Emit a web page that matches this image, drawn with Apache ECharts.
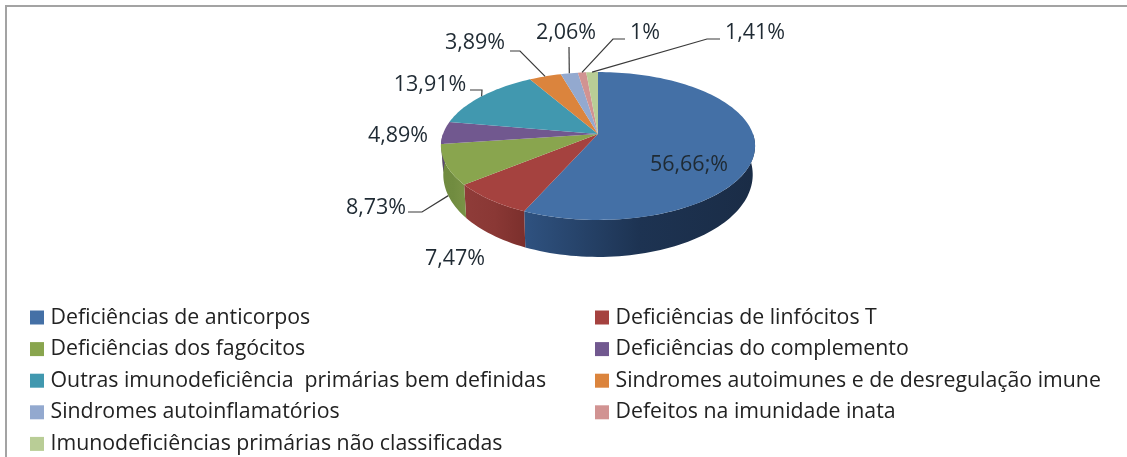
<!DOCTYPE html>
<html>
<head>
<meta charset="utf-8">
<title>Imunodeficiências primárias</title>
<style>
  html, body { margin: 0; padding: 0; background: #fff; }
  #chart { width: 1127px; height: 457px; }
</style>
<script src="https://cdn.jsdelivr.net/npm/echarts@6/dist/echarts.min.js"></script>
</head>
<body>
<div id="chart"></div>
<script>
const categories = [
  'Deficiências de anticorpos',
  'Deficiências de linfócitos T',
  'Deficiências dos fagócitos',
  'Deficiências do complemento',
  'Outras imunodeficiência  primárias bem definidas',
  'Sindromes autoimunes e de desregulação imune',
  'Sindromes autoinflamatórios',
  'Defeitos na imunidade inata',
  'Imunodeficiências primárias não classificadas'
]
const values = [56.66, 7.47, 8.73, 4.89, 13.91, 3.89, 2.06, 1, 1.41]
const valueLabels = ['56,66;%', '7,47%', '8,73%', '4,89%', '13,91%', '3,89%', '2,06%', '1%', '1,41%']
const colors = ['#4470a6', '#a5423f', '#89a54e', '#71588f', '#4198af', '#db843d', '#93a9cf', '#d19392', '#b9cd96']
const sideColors = [
  ['#2f5280', '#1d3352', '#1a2c46'],
  ['#8f3c39', '#8a3835', '#7b2f2c'],
  ['#6f8a3f', '#718c40', '#7a9346'],
  ['#5a4672', '#5a4672', '#5a4672'],
  ['#347a8c', '#347a8c', '#347a8c'],
  ['#af6a31', '#af6a31', '#af6a31'],
  ['#7587a6', '#7587a6', '#7587a6'],
  ['#a77675', '#a77675', '#a77675'],
  ['#94a478', '#94a478', '#94a478']
]
// label centre, then the elbow of the leader line (null = no leader)
const labelCentres = [[689, 165], [455, 259], [376, 208], [398, 136], [430, 85], [475, 43], [566, 33], [645, 33], [755, 33]]
const leaderElbows = [
  null, null,
  [[408, 212], [422, 212]], null,
  [[470, 90], [482, 90]],
  [[510, 51], [520, 51]],
  [[569, 47]],
  [[625, 39], [613, 39]],
  [[720, 39], [707, 39]]
]

const FONT = '"Open Sans", Lato, sans-serif'
const total = values.reduce((a, b) => a + b, 0)
const cumulative = values.map((_, i) => values.slice(0, i).reduce((a, b) => a + b, 0))

// pie plane seen in perspective, same numbers for all slices
const pie = { cx: 598, cy: 134, a: 155, b: 72, k: 0.162 }

function rimPoint(theta) {
  const x = Math.sin(theta)
  const y = Math.cos(theta)
  const w = 1 + pie.k * y
  return [pie.cx + pie.a * x / w, pie.cy - pie.b * y / w]
}

function floorPoint(theta) {
  const p = rimPoint(theta)
  return [pie.cx + (p[0] - pie.cx) * 0.985, p[1] + 27 - 10 * Math.cos(theta)]
}

function arc(from, to, fn) {
  const steps = Math.max(2, Math.ceil((to - from) / 0.03))
  const pts = []
  for (let i = 0; i <= steps; i++) {
    pts.push(fn(from + (to - from) * i / steps))
  }
  return pts
}

function renderSlice(params, api) {
  const i = params.seriesIndex
  const start = api.value(0) / total * Math.PI * 2
  const end = start + api.value(1) / total * Math.PI * 2
  const mid = (start + end) / 2
  const children = []

  // visible wall is the front half only
  const wallFrom = Math.max(start, Math.PI / 2)
  const wallTo = Math.min(end, Math.PI * 1.5)
  if (wallTo > wallFrom) {
    const top = arc(wallFrom, wallTo, rimPoint)
    const bottom = arc(wallFrom, wallTo, floorPoint).reverse()
    children.push({
      type: 'polygon',
      z2: 1,
      shape: { points: top.concat(bottom) },
      style: {
        fill: new echarts.graphic.LinearGradient(0, 0, 1, 0, [
          { offset: 0, color: sideColors[i][0] },
          { offset: 0.5, color: sideColors[i][1] },
          { offset: 1, color: sideColors[i][2] }
        ])
      }
    })
  }

  children.push({
    type: 'polygon',
    z2: 2,
    shape: { points: [[pie.cx, pie.cy]].concat(arc(start, end, rimPoint)) },
    style: { fill: colors[i] }
  })

  const elbows = leaderElbows[i]
  if (elbows) {
    const anchor = mid > Math.PI / 2 && mid < Math.PI * 1.5 ? floorPoint(mid) : rimPoint(mid)
    children.push({
      type: 'polyline',
      z2: 3,
      shape: { points: elbows.concat([anchor]) },
      style: { fill: null, stroke: '#3a3a3a', lineWidth: 1.2 }
    })
  }

  children.push({
    type: 'text',
    z2: 4,
    x: labelCentres[i][0],
    y: labelCentres[i][1],
    style: {
      text: valueLabels[i],
      fill: '#1f2a33',
      font: '21.5px ' + FONT,
      align: 'center',
      verticalAlign: 'middle'
    }
  })
  return { type: 'group', children: children }
}

const legendBase = {
  orient: 'vertical',
  top: 307,
  padding: 0,
  itemWidth: 14,
  itemHeight: 14,
  itemGap: 10.6,
  icon: 'rect',
  selectedMode: false,
  textStyle: { fontFamily: FONT, fontSize: 21.3, lineHeight: 20, color: '#222', padding: [0, 0, 0, 1.5] }
}

const chart = echarts.init(document.getElementById('chart'), null, { renderer: 'canvas' })
chart.setOption({
  animation: false,
  backgroundColor: '#ffffff',
  tooltip: { show: false },
  legend: [
    Object.assign({}, legendBase, { left: 30, data: categories.filter((_, i) => i % 2 === 0) }),
    Object.assign({}, legendBase, { left: 595, data: categories.filter((_, i) => i % 2 === 1) })
  ],
  graphic: [
    {
      type: 'polyline',
      silent: true,
      shape: { points: [[6, 457], [6, 6], [1127, 6]] },
      style: { fill: null, stroke: '#a3a3a3', lineWidth: 2 }
    }
  ],
  series: categories.map((name, i) => ({
    type: 'custom',
    name: name,
    coordinateSystem: 'none',
    silent: true,
    itemStyle: { color: colors[i] },
    renderItem: renderSlice,
    data: [[cumulative[i], values[i]]]
  }))
})
</script>
</body>
</html>
